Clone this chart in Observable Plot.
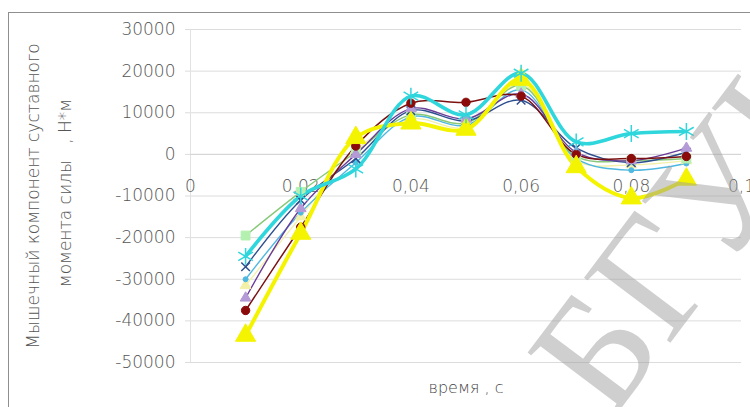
<!DOCTYPE html>
<html>
<head>
<meta charset="utf-8">
<script src="https://cdn.jsdelivr.net/npm/d3@7"></script>
<script src="https://cdn.jsdelivr.net/npm/@observablehq/plot@0.6"></script>
<style>
  html, body { margin: 0; padding: 0; background: #fff; }
  #wrap { position: relative; width: 750px; height: 407px; overflow: hidden; background: #fff; }
  #frame { position: absolute; left: 8px; top: 12px; width: 800px; height: 450px; border: 1px solid #8f8f8f; }
  #chart { position: absolute; left: 0; top: 0; }
  #wm { position: absolute; left: 722px; top: 182px; transform: translate(-50%, -50%) rotate(-53deg);
        font-family: "Liberation Serif", "DejaVu Serif", serif; font-size: 165px; color: rgb(160,160,160);
        opacity: 0.5; white-space: nowrap; pointer-events: none; line-height: 1; }
</style>
</head>
<body>
<div id="wrap">
  <div id="frame"></div>
  <div id="chart"></div>
  <div id="wm">БГУИР</div>
</div>
<script>
// time, s
const times = [0.01, 0.02, 0.03, 0.04, 0.05, 0.06, 0.07, 0.08, 0.09];
// series values, N*m
const seriesYellow    = [-43500, -19000, 4000, 7500, 6000, 18000, -3000, -10500, -6000];
const seriesDarkRed   = [-37500, -17500, 2000, 12300, 12500, 14000, 0, -1000, -500];
const seriesCyan      = [-24500, -10000, -3500, 14000, 9500, 19500, 3000, 5000, 5500];
const seriesPurple    = [-34500, -13000, 0, 11000, 8500, 14500, 500, -1500, 1500];
const seriesGreen     = [-19500, -9000, 500, 9500, 7500, 16500, -500, -1500, -1000];
const seriesDarkBlue  = [-27000, -11000, -1000, 10500, 8000, 13000, 1500, -2000, 500];
const seriesLightBlue = [-30000, -14000, -2000, 9000, 7000, 15500, -1000, -3800, -2200];
const seriesPale      = [-31500, -15000, 1000, 8500, 6500, 17000, -1500, -2500, -1500];

const xTicks = [0, 0.02, 0.04, 0.06, 0.08, 0.1];
const xTickLabels = ["0", "0,02", "0,04", "0,06", "0,08", "0,1"];
const yTicks = [-50000, -40000, -30000, -20000, -10000, 0, 10000, 20000, 30000];
const yTitle1 = "Мышечный компонент суставного";
const yTitle2 = "момента силы   , Н*м";
const xTitle = "время , с";

const series = [
  {name: "pale", values: seriesPale, color: "#f3f0a8", width: 1.3, symbol: "triangle", r: 4, fill: "#f3f0a8"},
  {name: "lightblue", values: seriesLightBlue, color: "#4fb8e0", width: 1.4, symbol: "circle", r: 2.5, fill: "#4fb8e0"},
  {name: "green", values: seriesGreen, color: "#88c878", width: 1.4, symbol: "square", r: 5, fill: "#b4f0b0"},
  {name: "darkblue", values: seriesDarkBlue, color: "#2e4f8f", width: 1.4, symbol: "times", r: 4, fill: "none"},
  {name: "purple", values: seriesPurple, color: "#6a3d9a", width: 1.4, symbol: "triangle", r: 4, fill: "#b49ad6"},
  {name: "darkred", values: seriesDarkRed, color: "#7a1010", width: 1.5, symbol: "circle", r: 4.2, fill: "#8b0a0a"},
  {name: "yellow", values: seriesYellow, color: "#f4f400", width: 4, symbol: "triangle", r: 7.5, fill: "#f4f400"},
  {name: "cyan", values: seriesCyan, color: "#2fd6dc", width: 3.6, symbol: "asterisk", r: 8, fill: "none"}
];

const rows = series.flatMap(s => s.values.map((v, i) => ({name: s.name, t: times[i], v})));

const marks = [
  Plot.gridY(yTicks, {stroke: "#dcdcdc", strokeOpacity: 1}),
  Plot.ruleX([0], {stroke: "#e2e2e2"}),
  Plot.ruleY([0], {stroke: "#d4d4d4"}),
  Plot.axisY(yTicks, {tickSize: 5, tickPadding: 10, stroke: "#dcdcdc", tickFormat: d => String(d),
    fontSize: 17, fill: "#555", textAnchor: "end", label: null}),
  Plot.text(xTicks, {x: d => d, y: () => 0, text: (d, i) => xTickLabels[i], dy: 32, fontSize: 17, fill: "#555"}),
  Plot.text([yTitle1], {frameAnchor: "left", textAnchor: "middle", dx: -157, rotate: -90, fontSize: 17, fill: "#555"}),
  Plot.text([yTitle2], {frameAnchor: "left", textAnchor: "middle", dx: -125, dy: -3, rotate: -90, fontSize: 17, fill: "#555"}),
  Plot.text([xTitle], {frameAnchor: "bottom", dy: 30, fontSize: 16, fill: "#444"})
];
for (const s of series) {
  const data = rows.filter(r => r.name === s.name);
  marks.push(Plot.line(data, {x: "t", y: "v", stroke: s.color, strokeWidth: s.width, curve: "catmull-rom"}));
}
for (const s of series) {
  const data = rows.filter(r => r.name === s.name);
  marks.push(Plot.dot(data, {x: "t", y: "v", symbol: () => s.symbol, r: s.r,
    fill: s.fill, stroke: s.fill === "none" ? s.color : s.fill, strokeWidth: s.fill === "none" ? 1.5 : 1}));
}

const chart = Plot.plot({
  width: 750,
  height: 407,
  marginLeft: 190,
  marginRight: 9,
  marginTop: 29,
  marginBottom: 45,
  x: {type: "linear", domain: [0, 0.1], axis: null},
  y: {type: "linear", domain: [-50000, 30000], axis: null},
  symbol: {type: "identity"},
  style: {fontFamily: "DejaVu Sans", fontWeight: 300, background: "transparent", overflow: "visible"},
  marks
});
document.getElementById("chart").appendChild(chart);
</script>
</body>
</html>
